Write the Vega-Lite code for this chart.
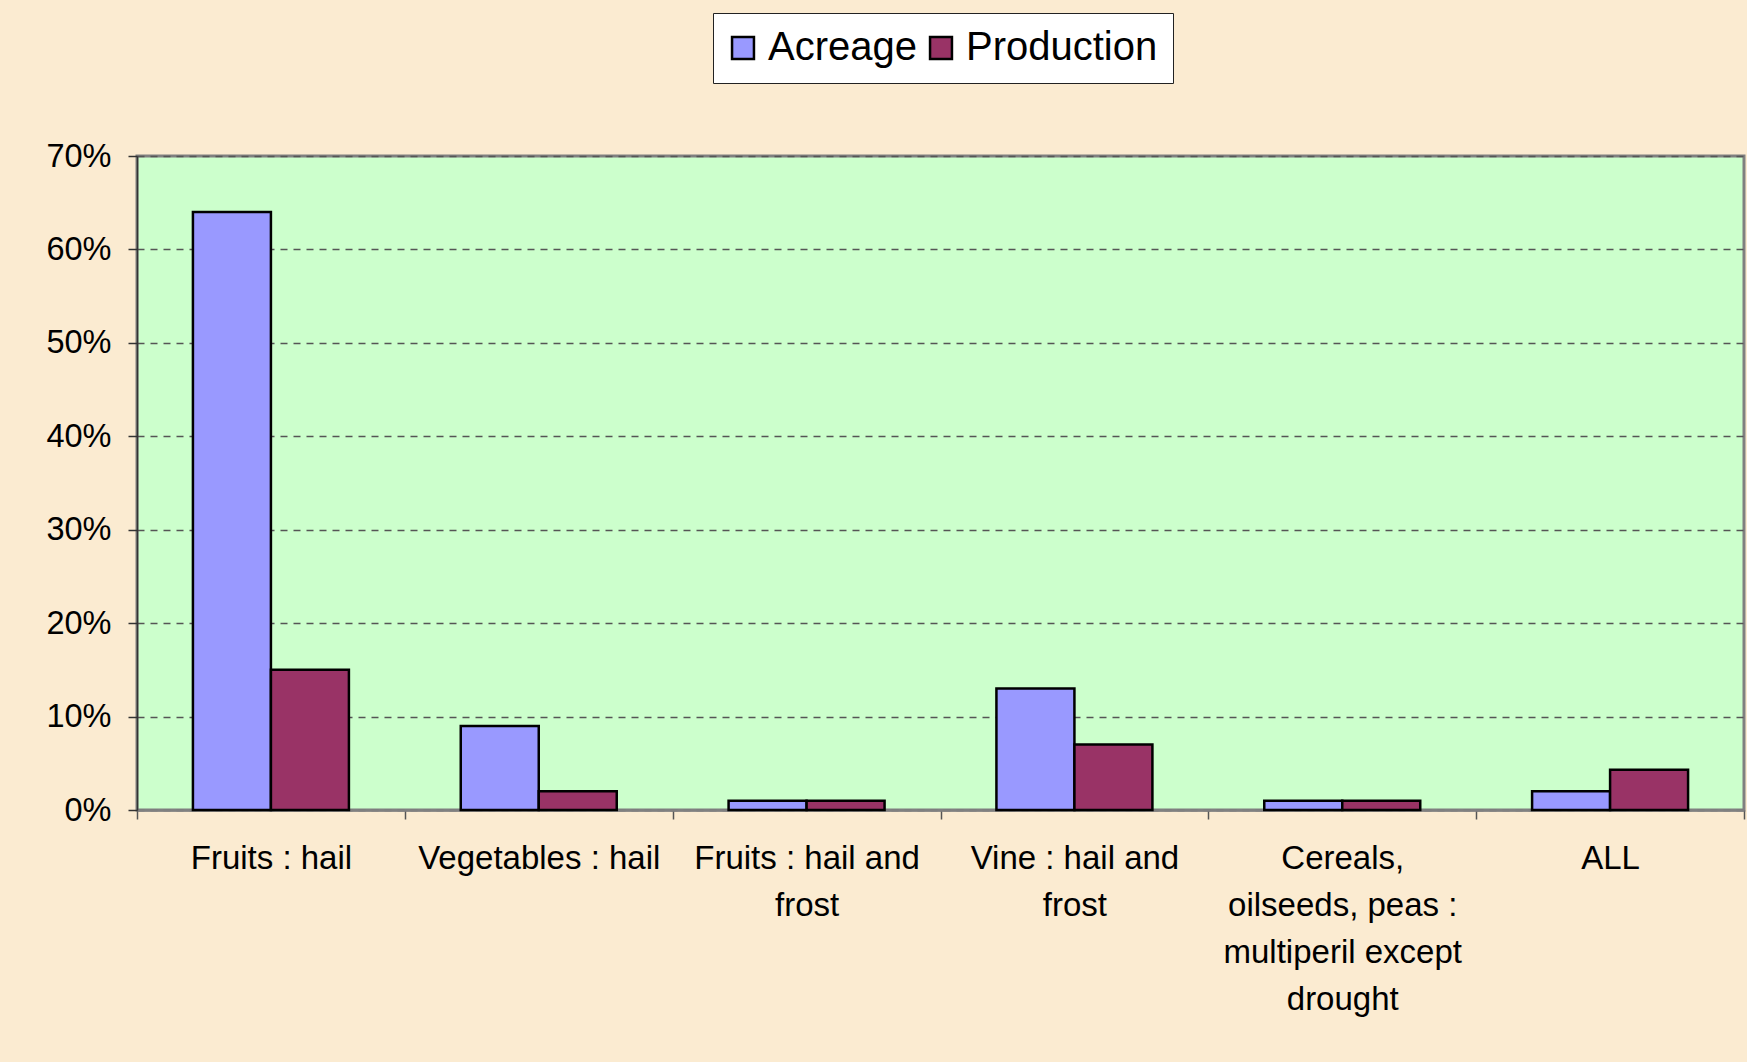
{
  "$schema": "https://vega.github.io/schema/vega-lite/v6.json",
  "autosize": "none",
  "width": 1607,
  "height": 654,
  "padding": {"left": 137, "top": 156, "right": 3, "bottom": 252},
  "background": "#FBEBD1",
  "config": {
    "font": "Liberation Sans",
    "view": {"fill": "#CCFFCC", "stroke": "#808080", "strokeWidth": 3}
  },
  "data": {
    "values": [
      {"category": "Fruits : hail", "series": "Acreage", "value": 0.64},
      {"category": "Fruits : hail", "series": "Production", "value": 0.15},
      {"category": "Vegetables : hail", "series": "Acreage", "value": 0.09},
      {"category": "Vegetables : hail", "series": "Production", "value": 0.02},
      {"category": "Fruits : hail and|frost", "series": "Acreage", "value": 0.01},
      {"category": "Fruits : hail and|frost", "series": "Production", "value": 0.01},
      {"category": "Vine : hail and|frost", "series": "Acreage", "value": 0.13},
      {"category": "Vine : hail and|frost", "series": "Production", "value": 0.07},
      {"category": "Cereals,|oilseeds, peas :|multiperil except|drought", "series": "Acreage", "value": 0.01},
      {"category": "Cereals,|oilseeds, peas :|multiperil except|drought", "series": "Production", "value": 0.01},
      {"category": "ALL", "series": "Acreage", "value": 0.02},
      {"category": "ALL", "series": "Production", "value": 0.043}
    ]
  },
  "mark": {"type": "bar", "stroke": "black", "strokeWidth": 2.5},
  "encoding": {
    "x": {
      "field": "category",
      "type": "nominal",
      "sort": null,
      "title": null,
      "scale": {"paddingInner": 0, "paddingOuter": 0},
      "axis": {
        "labelExpr": "split(datum.label, '|')",
        "labelAngle": 0,
        "labelFontSize": 33,
        "labelColor": "black",
        "labelLineHeight": 47,
        "labelPadding": 23,
        "labelLimit": 300,
        "tickBand": "extent",
        "tickSize": 9,
        "tickColor": "#555555",
        "tickWidth": 1.5,
        "domainColor": "#808080",
        "domainWidth": 2.5,
        "grid": false
      }
    },
    "xOffset": {"field": "series", "type": "nominal", "scale": {"paddingInner": 0, "paddingOuter": 0.717}},
    "y": {
      "field": "value",
      "type": "quantitative",
      "title": null,
      "scale": {"domain": [0, 0.7], "nice": false},
      "axis": {
        "values": [0, 0.1, 0.2, 0.3, 0.4, 0.5, 0.6, 0.7],
        "format": ".0%",
        "labelFontSize": 32.5,
        "labelColor": "black",
        "labelPadding": 17,
        "tickSize": 9,
        "tickColor": "#333333",
        "tickWidth": 1.5,
        "domainColor": "#333333",
        "domainWidth": 1.5,
        "grid": true,
        "gridColor": "#555555",
        "gridDash": [7, 6],
        "gridWidth": 1.3
      }
    },
    "color": {
      "field": "series",
      "type": "nominal",
      "title": null,
      "scale": {"domain": ["Acreage", "Production"], "range": ["#9999FF", "#993366"]},
      "legend": {
        "orient": "none",
        "legendX": 576,
        "legendY": -143,
        "direction": "horizontal",
        "fillColor": "white",
        "strokeColor": "#222222",
        "padding": 15,
        "labelFontSize": 40,
        "labelColor": "black",
        "labelLimit": 400,
        "labelOffset": 5,
        "columnPadding": 8,
        "symbolOffset": -5,
        "symbolType": "square",
        "symbolSize": 480,
        "symbolStrokeColor": "black",
        "symbolStrokeWidth": 2.5,
        "symbolOpacity": 1
      }
    }
  }
}
